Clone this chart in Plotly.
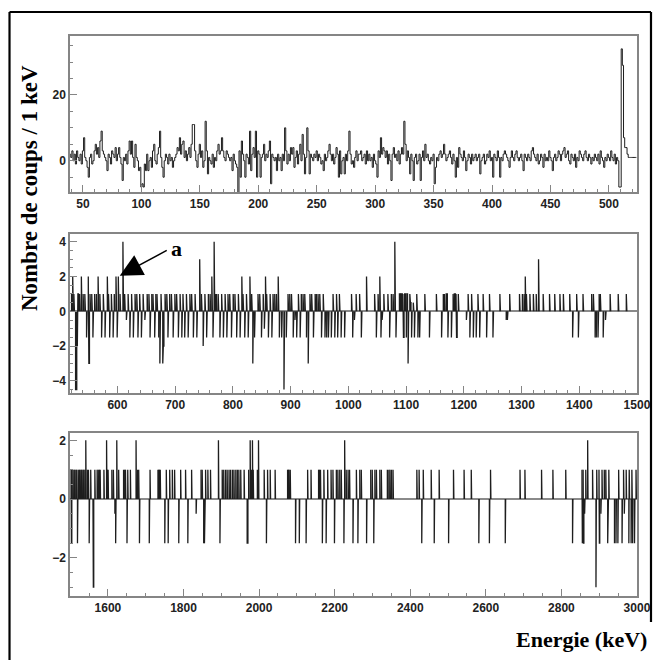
import numpy as np
import plotly.graph_objects as go

# ---------------- Panel 1 : 1 keV bins starting at 39 keV ----------------
p1_start = 39
p1_counts = [
    2, 1, 3, 0, 2, -1, 3, 1, 0, 2,
    -1, 3, 7, 1, 0, -2, -5, 1, 2, -1,
    0, 3, 5, 2, 4, 1, 6, 9, 3, 2,
    1, 0, -3, 2, 1, -1, 3, 2, 1, 4,
    0, 2, 4, 1, -1, -6, 1, 0, 2, -1,
    3, 6, 2, 6, 1, -2, 5, 1, 0, -3,
    -2, -8, -7, -8, -1, -3, 2, -3, 0, 1,
    -2, 3, 5, 0, -1, 2, 4, 9, 1, -2,
    -5, 0, 2, 1, -1, 2, 0, 1, -2, 0,
    1, 2, 4, 3, 7, 2, 5, 6, 1, 3,
    0, 2, 4, 1, 5, 11, 11, 3, 0, -2,
    2, 5, 1, 3, -2, 0, 12, 3, -4, 1,
    0, -1, 2, -2, 1, 0, 3, 5, 2, 3,
    7, 3, 1, 0, 3, 2, 1, 0, 1, -3,
    2, 0, -1, -2, -10, 3, -5, 6, 2, 0,
    -5, 2, 1, -1, 9, -3, 2, 4, 1, 9,
    -5, 3, 2, -5, 1, 2, 5, 0, 2, 1,
    3, 6, -7, 2, 1, 0, 1, -3, 2, 0,
    1, -3, 2, 0, 10, 3, -1, 2, 0, 4,
    2, 4, -2, 1, 3, -1, 2, 5, 0, 8,
    2, -4, 1, 10, 3, -4, 2, 1, 0, 2,
    1, 3, 0, 2, 1, -1, 0, -3, 2, 0,
    1, 3, 5, 2, 0, 2, -1, 1, 4, 2,
    -5, 3, -4, 0, 1, -4, 2, 0, 3, 9,
    2, -1, 0, -2, 1, 3, 0, 2, 2, 3,
    0, 1, 2, -1, 3, 0, 2, 0, 1, -2,
    2, 0, -1, -5, 3, 1, 7, 2, 4, 3,
    1, 3, -1, 2, 0, -6, 2, 4, 1, 2,
    0, 3, -1, 2, 4, 2, 12, 5, 0, 3,
    1, -4, 2, 0, -6, 1, 2, -1, 0, 2,
    -6, 1, 3, 0, 5, 1, 2, 0, -1, 1,
    0, 2, -7, -2, 1, 0, 2, 3, 1, 2,
    5, 2, 0, 1, 2, 3, 1, -1, 2, 0,
    -5, 1, -2, 4, 2, 1, 0, 3, 1, -3,
    0, 2, 1, -1, 2, 0, 1, 2, 0, 1,
    2, -4, 0, 1, 2, -1, 0, 2, 1, 3,
    0, 1, -5, 2, 1, 0, 3, 1, -5, 1,
    0, 2, 3, 2, 1, 0, -2, 1, 3, 1,
    0, 2, 3, 1, 0, 1, 2, 0, -3, 2,
    1, 0, 2, 1, 0, 3, 4, 2, 1, 0,
    2, -1, 0, 2, 1, -2, 2, 0, 1, 0,
    3, 1, 0, -3, 1, 2, 0, 1, 3, 2,
    0, 2, 3, 4, 1, 2, 3, 0, -1, 2,
    1, 0, 2, -2, 1, 0, 3, 2, 1, 0,
    2, 3, 1, 0, 2, 1, -1, 1, 0, 2,
    1, 0, 2, -1, 3, 1, 0, -2, 1, 0,
    2, 1, 0, 3, 1, 0, 2, -1, 1, 0,
    -8, -8, 34, 29, 7, 4, 4, 2, 1, 1,
    1, 1, 1, 1, 1,
]

# ---------------- Panel 2 : sparse non-zero bins (518-1500 keV) ----------------
p2_energy = [
    521, 523, 525, 528, 529, 531, 532, 535, 538, 541, 544, 547, 550, 551, 553, 556, 558, 561, 564, 567,
    570, 573, 576, 579, 583, 585, 587, 590, 593, 595, 598, 600, 602, 605, 610, 613, 616, 619, 622, 625,
    628, 631, 634, 636, 639, 642, 645, 648, 652, 655, 657, 660, 662, 665, 667, 669, 672, 674, 676, 679,
    680, 683, 686, 688, 691, 694, 697, 700, 703, 706, 709, 712, 714, 717, 720, 723, 726, 729, 732, 735,
    738, 743, 746, 749, 752, 755, 758, 761, 764, 766, 768, 770, 772, 775, 778, 781, 784, 787, 790, 792,
    795, 798, 801, 804, 807, 810, 813, 816, 818, 821, 824, 827, 830, 833, 835, 838, 844, 847, 850, 853,
    855, 857, 859, 862, 865, 868, 870, 873, 876, 879, 881, 885, 889, 893, 896, 899, 902, 905, 908, 911,
    914, 917, 919, 922, 925, 928, 931, 934, 937, 940, 943, 945, 948, 951, 954, 957, 960, 963, 966, 971,
    974, 977, 980, 982, 985, 988, 994, 1006, 1008, 1011, 1014, 1020, 1023, 1032, 1046, 1049, 1052, 1055, 1057, 1059,
    1062, 1069, 1072, 1075, 1078, 1081, 1083, 1089, 1090, 1092, 1093, 1095, 1096, 1098, 1099, 1101, 1102, 1104, 1107, 1108,
    1110, 1113, 1115, 1119, 1121, 1124, 1133, 1141, 1153, 1162, 1165, 1167, 1170, 1171, 1173, 1179, 1182, 1184, 1185, 1187,
    1188, 1191, 1205, 1208, 1211, 1214, 1217, 1222, 1225, 1228, 1234, 1240, 1245, 1251, 1263, 1274, 1276, 1280, 1297, 1302,
    1305, 1307, 1309, 1315, 1321, 1326, 1330, 1338, 1349, 1358, 1367, 1373, 1384, 1389, 1396, 1399, 1407, 1422, 1425, 1428,
    1430, 1433, 1435, 1437, 1442, 1446, 1454, 1468, 1482,
]
p2_value = [
    1, 2, 1, -4.5, -4.5, -2, 1, 1, 2, 1, 1, -1.5, 2, -3, 1, 1, -1.5, 1, 1, 2,
    1, -1.5, 1, -1.5, 2, 1, -1.5, 1, -1.5, 1, 2, -1.5, 2, 1, 4, 1, -0.5, 1, -1.5, 1,
    -1.5, 1, 1, -1.5, 1, -1.5, 1, -0.5, 1, 1, -1.5, 1, 1, -1.5, 1, 1, -1.5, -3, 1, -3,
    -2, 1, 1, -1.5, 1, 1, -1.5, 1, 1, -1.5, 1, -1.5, 1, -1.5, 1, -1.5, 1, 1, -1.5, 1,
    -1.5, 3, 1, -2, 1, -1.5, 1, 1, 2, -1.5, 4, 1, 1, 1, -1.5, 1, -1.5, 1, -1.5, 1,
    1, -1.5, 1, 1, -1.5, 1, -1.5, 2, 1, -1.5, 1, -1.5, 2, 1, -3, -1.5, 1, 1, -1.5, 1,
    -1, 2, 1, -1.5, 1, -1.5, 1, 1, 1, 2, -1.5, -1.5, -4.5, -1.5, 1, 1, 1, -1.5, -0.5, -1.5,
    1, -1.5, 1, 1, 1, -1.5, -3, 1, 1, -1.5, 1, 1, 1, 1, -1.5, 1, -1.5, -1.5, -1.5, -1.5,
    1, -1.5, 1, -1.5, 1, -1.5, -1.5, 1, -1.5, -0.5, 1, 1, -1.5, 2, 1, -1.5, 1, 2, -1.5, -0.5,
    1, 1, -1.5, 1, 1, 4, -1.5, 1, 1, 1, 1, 1, -1.5, 1, 1, -1.5, 1, -3, 1, 0.5,
    -1.5, 0.5, -1.5, 1, -1.5, -1.5, 1, -1.5, 1, -1.5, 1, 1, 1, 1, -1.5, -1.5, 1, 1, 1, 1,
    -1.5, 1, -0.5, 1, -1.5, 1, -1.5, -1.5, 1, -1.5, 1, -1.5, 1, -1.5, 1, -0.5, -0.5, 1, 1, 1,
    1, 2, 1, 1, 1, 1, 3, 1, 1, 1, 1, 1, 1, -1.5, 1, -1.5, 1, 1, 1, -1.5,
    -1.5, -1.5, 1, 1, -1.5, -0.5, 1, 1, 1,
]

# ---------------- Panel 3 : sparse non-zero bins (1500-3000 keV) ----------------
p3_energy = [
    1503, 1504, 1505, 1508, 1511, 1513, 1516, 1518, 1520, 1522, 1525, 1527, 1530, 1532, 1535, 1537, 1540, 1542, 1546, 1549,
    1551, 1555, 1561, 1562, 1566, 1572, 1575, 1578, 1580, 1590, 1597, 1599, 1601, 1611, 1615, 1619, 1621, 1624, 1629, 1642,
    1645, 1647, 1651, 1653, 1660, 1675, 1679, 1682, 1684, 1710, 1712, 1733, 1735, 1737, 1739, 1751, 1755, 1760, 1764, 1771,
    1777, 1788, 1793, 1806, 1812, 1822, 1834, 1847, 1850, 1854, 1856, 1857, 1859, 1865, 1872, 1893, 1897, 1903, 1907, 1912,
    1916, 1921, 1925, 1930, 1934, 1939, 1943, 1947, 1952, 1961, 1969, 1970, 1973, 1977, 1980, 1983, 1985, 1996, 1999, 2014,
    2020, 2023, 2030, 2043, 2076, 2078, 2080, 2083, 2097, 2107, 2125, 2129, 2138, 2158, 2160, 2163, 2168, 2172, 2178, 2182,
    2191, 2196, 2200, 2205, 2209, 2214, 2218, 2225, 2227, 2231, 2236, 2240, 2249, 2258, 2262, 2267, 2271, 2285, 2296, 2300,
    2304, 2307, 2311, 2320, 2324, 2340, 2344, 2347, 2351, 2355, 2418, 2424, 2431, 2435, 2456, 2464, 2477, 2502, 2515, 2543,
    2562, 2582, 2610, 2613, 2652, 2691, 2704, 2748, 2778, 2812, 2830, 2855, 2856, 2858, 2859, 2862, 2865, 2870, 2883, 2892,
    2894, 2900, 2901, 2905, 2908, 2914, 2918, 2923, 2924, 2926, 2941, 2945, 2950, 2952, 2961, 2965, 2967, 2972, 2979, 2980,
    2985, 2987, 2989, 2994, 2998,
]
p3_value = [
    1, -1.5, 1, 1, 1, 1, 1, 1, -1.5, 1, 1, 1, 1, 1, 1, 1, 1, 2, 1, 1,
    -1.5, 1, -0.5, -3, 1, 1, 1, 1, 1, 1, 2, 1, 1, 1, 1, -0.5, -1.5, 2, 1, 1,
    1, 1, -1.5, 1, 1, 2, 1, 1, -1.5, -1.5, 1, 1, 1, 1, 1, -1.5, 1, -1.5, 1, 1,
    1, -1.5, 1, 1, -1.5, 1, -0.5, 1, 1, -1.5, -1.5, -1.5, 1, 1, 1, 2, -1.5, 1, 1, 1,
    1, 1, 1, 1, 1, 1, 1, 1, 1, 1, -1.5, -1.5, 1, 2, 1, 2, 1, 1, 2, 1,
    -1.5, 1, 1, 1, 1, 1, 1, 1, -1.5, -1.5, -1.5, 1, 1, 1, 1, 1, -1.5, 1, -1.5, 1,
    1, 1, -1.5, 1, 1, 1, 1, -1.5, 2, 1, 1, 1, -1.5, 1, -1.5, 1, 1, -1.5, 1, 1,
    -1.5, 1, 1, 1, 1, 1, 1, 1, 1, 1, 1, 1, -1.5, 1, 1, -1.5, 1, -1.5, 1, 1,
    1, -1.5, -1.5, 1, -1.5, 1, 1, 1, 1, 1, -1.5, 1, -1.5, 1, -1.5, -0.5, 1, 2, 1, -3,
    1, 1, -1.5, -0.5, 1, 1, 1, -1.5, -1.5, 1, -1.5, -1.5, -1.5, 1, -1.5, 1, -0.5, 1, -1.5, 1,
    -1.5, 1, -1.5, -1.5, 1,
]

# axis ranges
p1_range, p2_range, p3_range = [39, 524], [518, 1500], [1500, 3000]


def dense(start, stop, energies, values):
    arr = np.zeros(stop - start)
    for e, v in zip(energies, values):
        if start <= e < stop:
            arr[e - start] = v
    return arr


def step_xy(start, vals):
    """Full histogram outline (1 keV bins centred on integer energies)."""
    vals = list(vals)
    x = [start + i - 0.5 for i in range(len(vals) + 1)]
    y = vals + [vals[-1]]
    return x, y


def step_runs(start, vals):
    """Histogram outline of the non-zero runs only (zero level drawn by the axis zero line)."""
    xs, ys = [], []
    n = len(vals)
    i = 0
    while i < n:
        if vals[i] == 0:
            i += 1
            continue
        j = i
        e = start + i - 0.5
        xs += [e, e]
        ys += [0, vals[i]]
        while j < n and vals[j] != 0:
            e1 = start + j + 0.5
            xs += [e1]
            ys += [vals[j]]
            nxt = vals[j + 1] if j + 1 < n else 0
            xs += [e1]
            ys += [nxt]
            j += 1
        xs.append(None)
        ys.append(None)
        i = j
    return xs, ys


# target picture size (positions below are given in target pixels)
TW, TH = 655, 660
# the photographed page comes out horizontally compressed by ~2%: widen the figure
W, H = 670, 660


def px(sx):
    return sx / TW


def py(sy):
    return 1 - sy / TH


LINE = "#1e1e1e"

fig = go.Figure()
x1, y1 = step_xy(p1_start, p1_counts)
fig.add_trace(go.Scatter(x=x1, y=y1, mode="lines", line=dict(color=LINE, width=1, shape="hv"),
                         xaxis="x", yaxis="y", showlegend=False, hoverinfo="skip"))
d2 = dense(p2_range[0], p2_range[1], p2_energy, p2_value)
x2, y2 = step_runs(p2_range[0], d2)
fig.add_trace(go.Scatter(x=x2, y=y2, mode="lines", line=dict(color=LINE, width=1.3),
                         xaxis="x2", yaxis="y2", showlegend=False, hoverinfo="skip", connectgaps=False))
d3 = dense(p3_range[0], p3_range[1], p3_energy, p3_value)
x3, y3 = step_runs(p3_range[0], d3)
fig.add_trace(go.Scatter(x=x3, y=y3, mode="lines", line=dict(color=LINE, width=1.3),
                         xaxis="x3", yaxis="y3", showlegend=False, hoverinfo="skip", connectgaps=False))

FRAME = "#858585"
TICKFONT = dict(family="Liberation Sans, Arial", size=12, color="#222222", weight="bold")


def ax(rng, dtick, minor, domain, anchor, zero=False):
    return dict(range=rng, dtick=dtick, tick0=0, domain=domain, anchor=anchor,
                showline=True, linecolor=FRAME, linewidth=1.5, mirror=True,
                ticks="inside", ticklen=7, tickwidth=1, tickcolor=FRAME,
                minor=dict(ticks="inside", ticklen=3.5, dtick=minor, tick0=0, tickcolor=FRAME, showgrid=False),
                showgrid=False, zeroline=zero, zerolinecolor="#8a8a8a", zerolinewidth=1.5,
                tickfont=TICKFONT, fixedrange=True)


xd = [px(70), px(636)]
yd1 = [py(192), py(35.7)]
yd2 = [py(393), py(234)]
yd3 = [py(596), py(433)]

fig.update_layout(
    width=W, height=H, margin=dict(l=0, r=0, t=0, b=0),
    paper_bgcolor="white", plot_bgcolor="white", showlegend=False,
    xaxis=ax(p1_range, 50, 10, xd, "y"),
    yaxis=ax([-9.5, 38], 20, 5, yd1, "x"),
    xaxis2=ax(p2_range, 100, 20, xd, "y2"),
    yaxis2=ax([-4.7, 4.45], 2, 0.5, yd2, "x2", zero=True),
    xaxis3=ax(p3_range, 200, 50, xd, "y3"),
    yaxis3=ax([-3.3, 2.25], 2, 0.5, yd3, "x3", zero=True),
)

SERIF = "Liberation Serif, Times New Roman, serif"
fig.add_annotation(text="<b>Nombre de coups / 1 keV</b>", xref="paper", yref="paper",
                   x=px(29), y=py(188), xanchor="center", yanchor="middle", textangle=-90,
                   showarrow=False, font=dict(family=SERIF, size=23, color="black"))
fig.add_annotation(text="<b>Energie (keV)</b>", xref="paper", yref="paper",
                   x=px(513), y=py(639), xanchor="left", yanchor="middle", showarrow=False,
                   font=dict(family=SERIF, size=22, color="black"))
# arrow "a"
fig.add_annotation(x=604, y=2.05, xref="x2", yref="y2", ax=688, ay=3.55, axref="x2", ayref="y2",
                   text="", showarrow=True, arrowhead=2, arrowsize=3, arrowwidth=1.5, arrowcolor="black")
fig.add_annotation(text="<b>a</b>", x=703, y=3.6, xref="x2", yref="y2", showarrow=False,
                   font=dict(family=SERIF, size=22, color="black"))

# outer frame of the figure (top, left, and right side that stops above the axis title)
FR = dict(color="black", width=2.2)
fig.add_shape(type="line", xref="paper", yref="paper", x0=px(9.5), x1=px(650), y0=py(12), y1=py(12), line=FR)
fig.add_shape(type="line", xref="paper", yref="paper", x0=px(9.5), x1=px(9.5), y0=py(12), y1=-0.05, line=FR)
fig.add_shape(type="line", xref="paper", yref="paper", x0=px(650), x1=px(650), y0=py(12), y1=py(622), line=FR)

# remove the default page margin so the figure starts at the window corner
fig.write_html("out.html", config={"displayModeBar": False},
               post_script="document.body.style.margin='0';document.body.style.overflow='hidden';")
